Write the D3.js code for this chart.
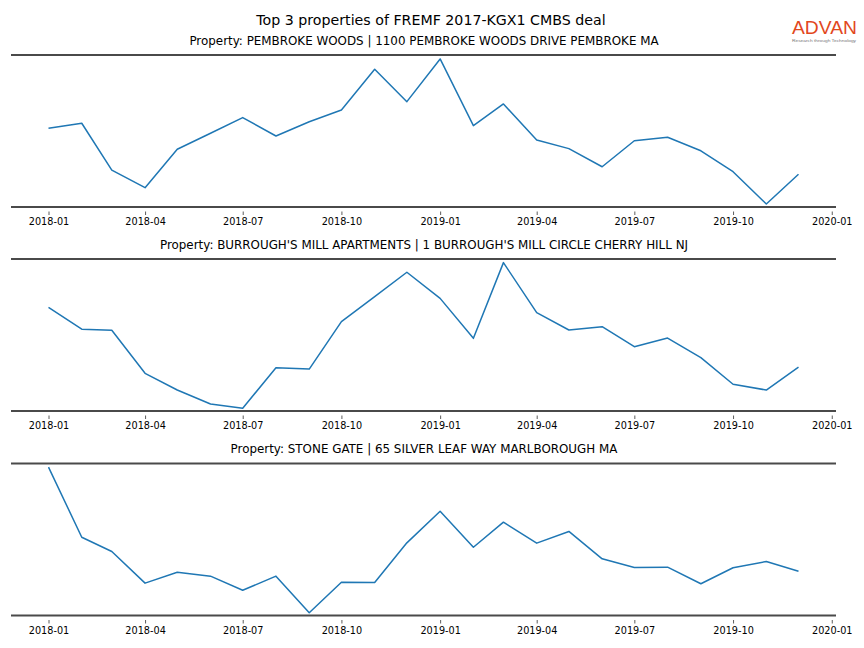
<!DOCTYPE html>
<html>
<head>
<meta charset="utf-8">
<script src="https://cdn.jsdelivr.net/npm/d3@7"></script>
<style>
  html, body { margin: 0; padding: 0; background: #fff; }
  svg { display: block; font-family: "DejaVu Sans", sans-serif; }
</style>
</head>
<body>
<svg id="chart" width="864" height="648"></svg>
<script>
// ---------------- data ----------------
const months = [
  "2018-01","2018-02","2018-03","2018-04","2018-05","2018-06",
  "2018-07","2018-08","2018-09","2018-10","2018-11","2018-12",
  "2019-01","2019-02","2019-03","2019-04","2019-05","2019-06",
  "2019-07","2019-08","2019-09","2019-10","2019-11","2019-12"
];
const titles = [
  "Property: PEMBROKE WOODS | 1100 PEMBROKE WOODS DRIVE PEMBROKE MA",
  "Property: BURROUGH'S MILL APARTMENTS | 1 BURROUGH'S MILL CIRCLE CHERRY HILL NJ",
  "Property: STONE GATE | 65 SILVER LEAF WAY MARLBOROUGH MA"
];
const pembrokeWoods = [51.8, 55.1, 24.3, 12.7, 38.0, 48.5, 58.8, 46.7, 56.1, 63.8, 90.6, 69.3,
                       97.4, 53.5, 67.8, 44.1, 38.4, 26.5, 43.6, 45.9, 37.0, 23.2, 2.0, 21.5];
const burroughsMill = [68.2, 53.8, 53.1, 24.8, 13.8, 4.6, 1.8, 28.5, 27.6, 58.8, 75.2, 91.3,
                       74.1, 47.8, 97.6, 64.7, 53.3, 55.5, 42.3, 48.0, 35.1, 17.6, 13.8, 28.8];
const stoneGate = [97.6, 51.5, 42.1, 21.3, 28.5, 25.9, 16.6, 25.9, 1.8, 21.9, 21.7, 47.8,
                   68.6, 44.9, 61.4, 47.6, 55.3, 37.3, 31.6, 31.8, 20.9, 31.4, 35.5, 29.1];
const series = [pembrokeWoods, burroughsMill, stoneGate];
const mainTitle = "Top 3 properties of FREMF 2017-KGX1 CMBS deal";
const tickLabels = ["2018-01","2018-04","2018-07","2018-10","2019-01","2019-04","2019-07","2019-10","2020-01"];

// ---------------- layout ----------------
const svg = d3.select("#chart");
const W = 864;
const left = 11, right = 836;
const panelTops = [55, 259, 463.5];
const panelH = 152;
const parse = d3.timeParse("%Y-%m");
const dates = months.map(parse);

const [d0, d1] = d3.extent(dates);
const pad = (d1 - d0) * 0.05;
const x = d3.scaleTime()
  .domain([new Date(+d0 - pad), new Date(+d1 + pad)])
  .range([left, right]);

svg.append("text")
  .attr("x", W / 2 - 1).attr("y", 24.7)
  .attr("text-anchor", "middle")
  .attr("font-size", "14.2px")
  .attr("fill", "#000")
  .text(mainTitle);

// logo
const logo = svg.append("g");
logo.append("text")
  .attr("x", 792).attr("y", 33.5)
  .attr("font-family", "'Liberation Sans', Arial, sans-serif")
  .attr("font-size", "18px")
  .attr("textLength", 65)
  .attr("lengthAdjust", "spacingAndGlyphs")
  .attr("fill", "#e2471d")
  .text("ADVAN");
logo.append("text")
  .attr("x", 792).attr("y", 41.5)
  .attr("font-family", "'Liberation Sans', Arial, sans-serif")
  .attr("font-size", "4.2px")
  .attr("textLength", 64)
  .attr("lengthAdjust", "spacingAndGlyphs")
  .attr("fill", "#777")
  .text("Research through Technology");

series.forEach((vals, i) => {
  const top = panelTops[i], bottom = top + panelH;
  const y = d3.scaleLinear().domain([0, 100]).range([bottom, top]);
  const g = svg.append("g");

  g.append("text")
    .attr("x", W / 2 - 8).attr("y", top - 10.3)
    .attr("text-anchor", "middle")
    .attr("font-size", "11.9px")
    .attr("fill", "#000")
    .text(titles[i]);

  // spines
  [top, bottom].forEach(yy => {
    g.append("line")
      .attr("x1", left).attr("x2", right)
      .attr("y1", yy).attr("y2", yy)
      .attr("stroke", "#4a4a4a").attr("stroke-width", 2);
  });

  // x axis
  const axis = d3.axisBottom(x)
    .tickValues(tickLabels.map(parse))
    .tickFormat(d3.timeFormat("%Y-%m"))
    .tickSize(3.5)
    .tickPadding(3.5);
  const ag = g.append("g")
    .attr("transform", `translate(0,${bottom + 4.5})`)
    .call(axis);
  ag.select(".domain").remove();
  ag.selectAll(".tick line").attr("stroke", "#333").attr("stroke-width", 0.8);
  ag.selectAll(".tick text")
    .attr("font-family", "'DejaVu Sans', sans-serif")
    .attr("font-size", "9.7px")
    .attr("fill", "#000");

  const line = d3.line()
    .x((d, j) => x(dates[j]))
    .y(d => y(d));
  g.append("path")
    .datum(vals)
    .attr("d", line)
    .attr("fill", "none")
    .attr("stroke", "#1f77b4")
    .attr("stroke-width", 1.5)
    .attr("stroke-linejoin", "round");
});
</script>
</body>
</html>
